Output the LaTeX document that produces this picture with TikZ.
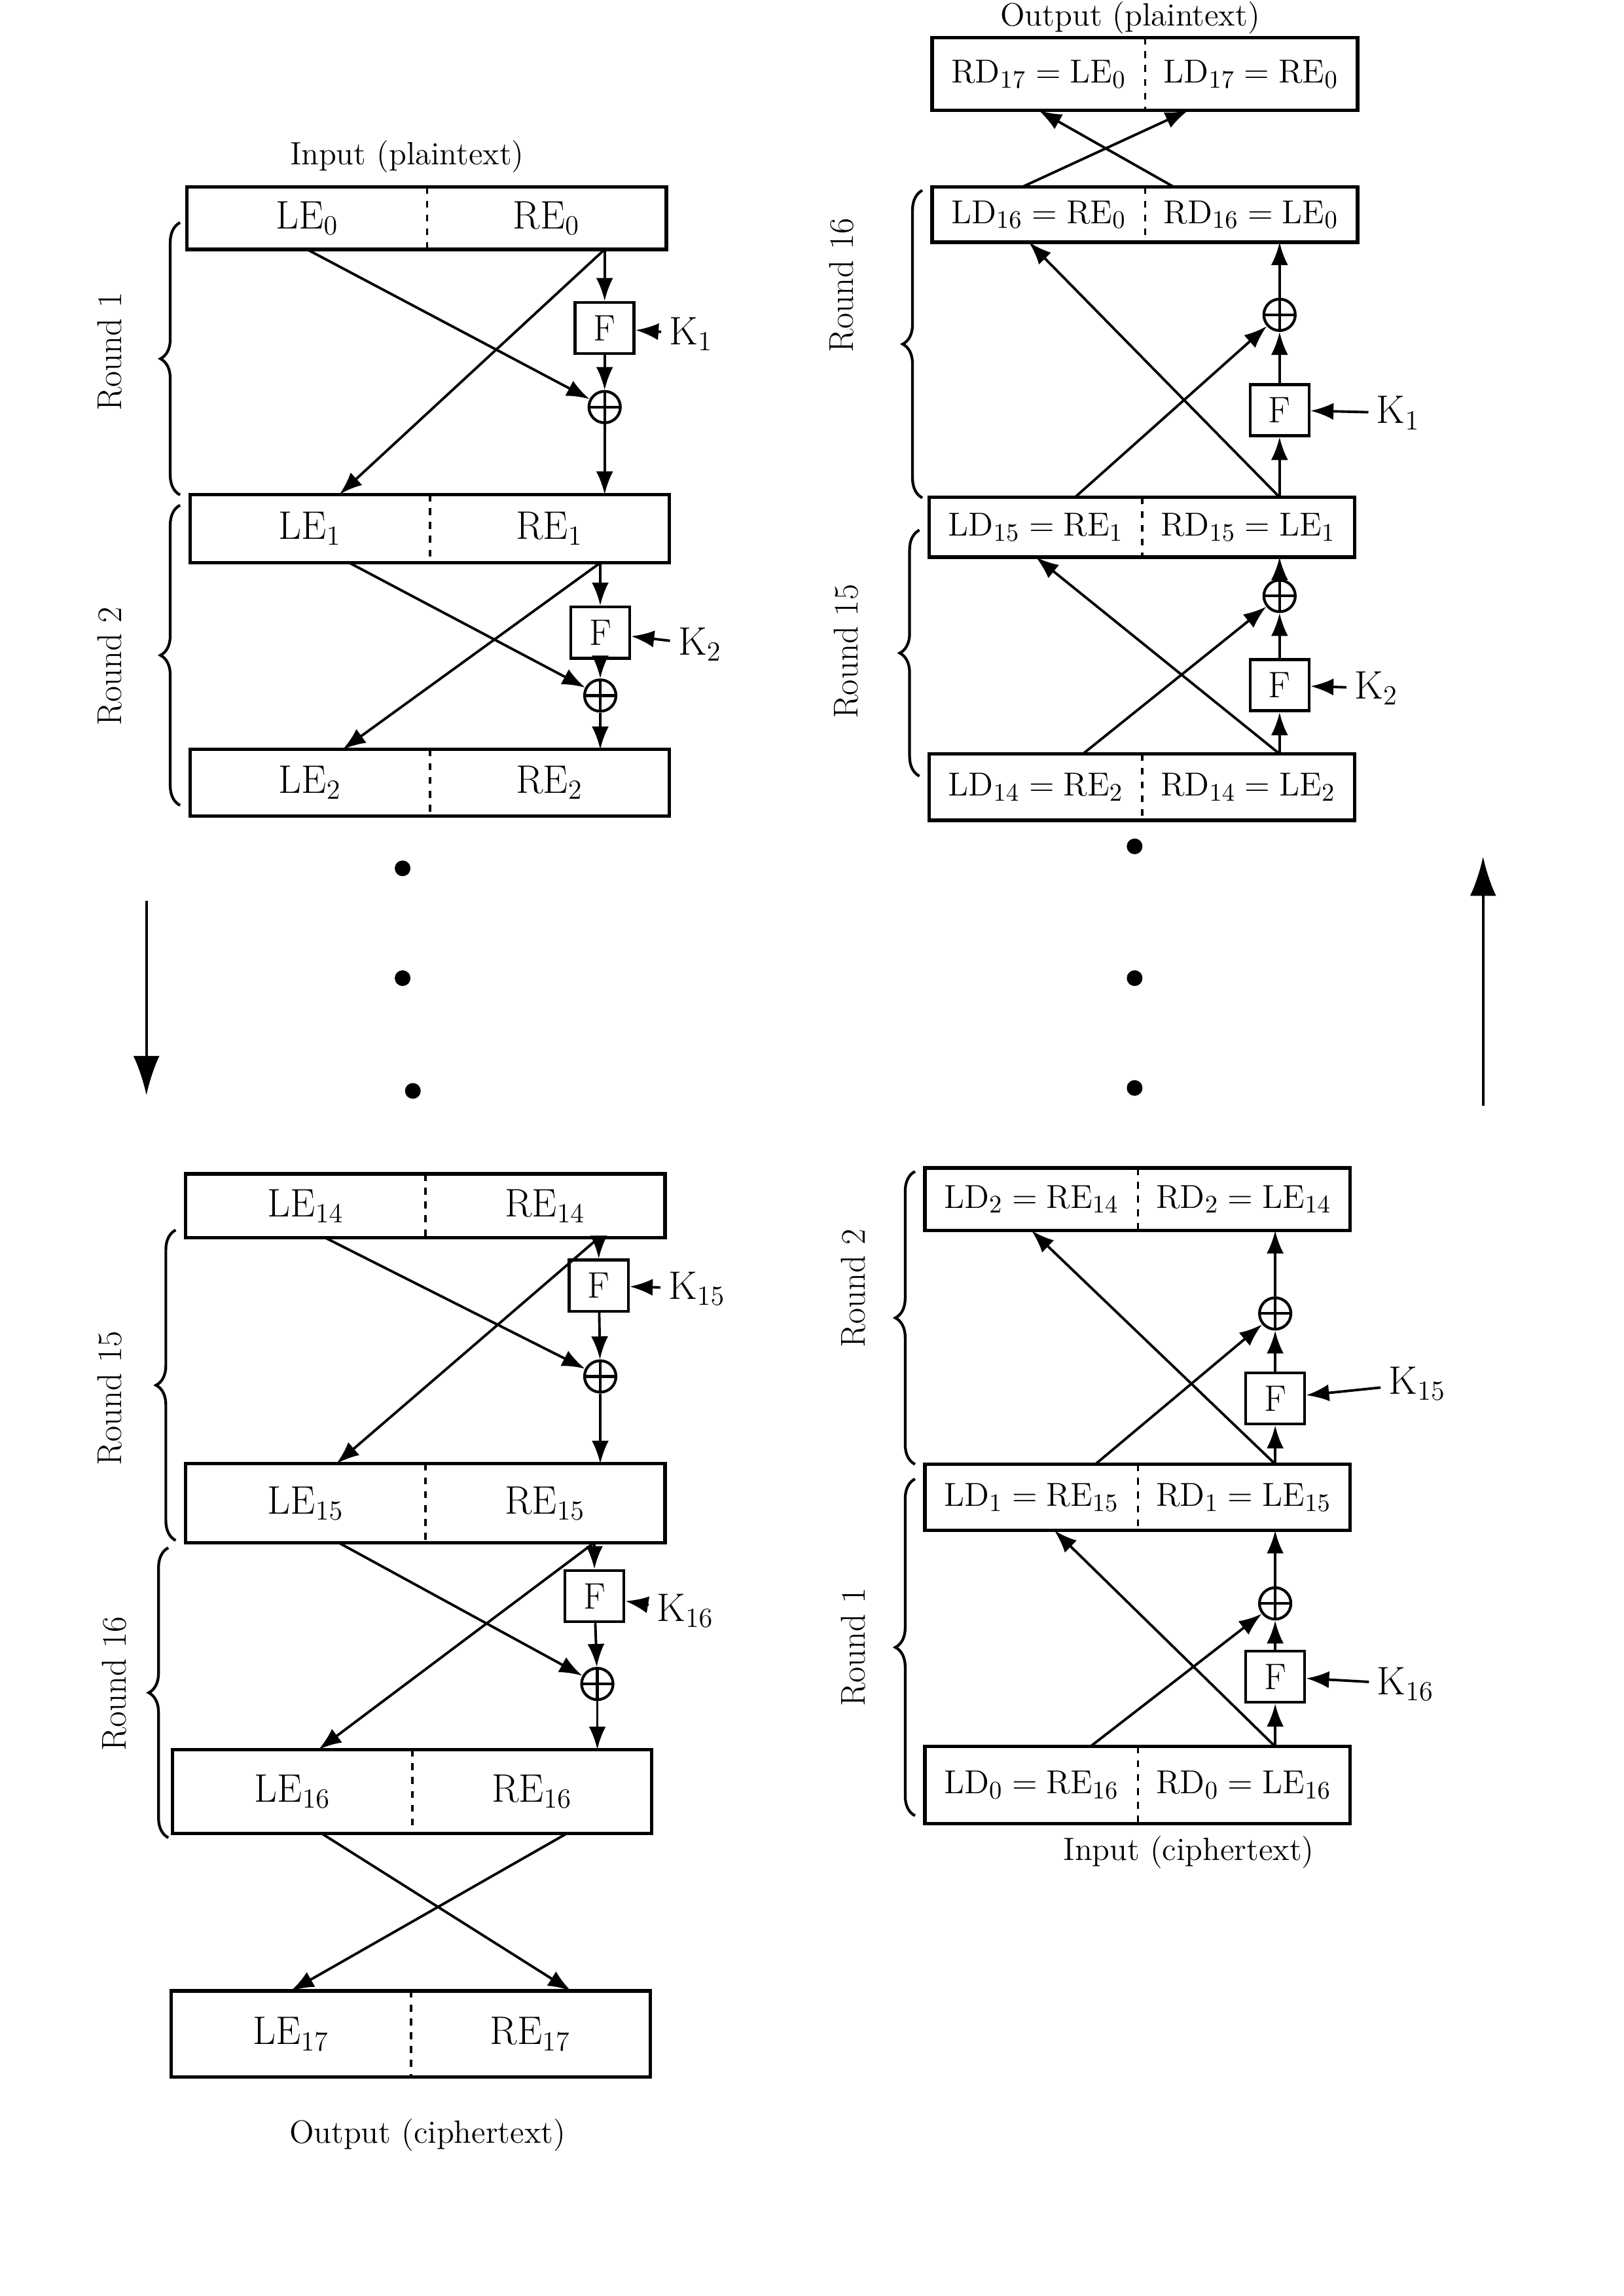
\documentclass[tikz,border=0pt]{standalone}
\usetikzlibrary{arrows.meta,decorations.pathreplacing}

\begin{document}
\begin{tikzpicture}[
  x=0.02236cm,y=-0.02236cm,
  half/.style={minimum width=3.65cm,minimum height=1cm,inner sep=0pt,font=\fontsize{17}{20}\selectfont},
  dhalf/.style={minimum width=3.24cm,minimum height=0.95cm,inner sep=0pt,font=\fontsize{15}{18}\selectfont},
  fbox/.style={draw,line width=1.3pt,minimum width=0.9cm,minimum height=0.78cm,inner sep=0pt,font=\fontsize{16}{18}\selectfont},
  xorn/.style={circle,draw,line width=1.2pt,minimum size=0.48cm,inner sep=0pt,
    path picture={\draw[line width=1.2pt] (path picture bounding box.north) -- (path picture bounding box.south)
      (path picture bounding box.west) -- (path picture bounding box.east);}},
  kname/.style={font=\fontsize{17}{20}\selectfont},
  txt/.style={font=\fontsize{14}{16}\selectfont},
  rnd/.style={rotate=90,font=\fontsize{15}{18}\selectfont},
  brc/.style={decorate,decoration={brace,amplitude=0.3cm},line width=1.2pt},
  arc/.style={-{Latex[length=3.5mm,width=2.6mm]},line width=1.1pt},
  bigarc/.style={-{Latex[length=6mm,width=4mm]},line width=1.1pt},
  boxline/.style={line width=1.5pt},
  divline/.style={dashed,line width=1pt},
  vdot/.style={circle,fill,minimum size=0.24cm,inner sep=0pt}
]
  \useasboundingbox (0,0) rectangle (1109,1568);

  % encryption, left column
  \node[txt] (inp) at (278,107) {Input (plaintext)};
  \node[half,minimum height=0.94cm] (le0) at (209.75,149) {$\mathrm{LE}_{0}$};
  \node[half,minimum height=0.94cm] (re0) at (373.25,149) {$\mathrm{RE}_{0}$};
  \node[half,minimum height=1.03cm] (le1) at (211.75,361) {$\mathrm{LE}_{1}$};
  \node[half,minimum height=1.03cm] (re1) at (375.25,361) {$\mathrm{RE}_{1}$};
  \node[half] (le2) at (211.75,534.5) {$\mathrm{LE}_{2}$};
  \node[half] (re2) at (375.25,534.5) {$\mathrm{RE}_{2}$};
  \node[half,minimum height=0.96cm] (le14) at (208.75,823.5) {$\mathrm{LE}_{14}$};
  \node[half,minimum height=0.96cm] (re14) at (372.25,823.5) {$\mathrm{RE}_{14}$};
  \node[half,minimum height=1.19cm] (le15) at (208.75,1026.5) {$\mathrm{LE}_{15}$};
  \node[half,minimum height=1.19cm] (re15) at (372.25,1026.5) {$\mathrm{RE}_{15}$};
  \node[half,minimum height=1.27cm] (le16) at (199.75,1223.5) {$\mathrm{LE}_{16}$};
  \node[half,minimum height=1.27cm] (re16) at (363.25,1223.5) {$\mathrm{RE}_{16}$};
  \node[half,minimum height=1.3cm] (le17) at (198.75,1389) {$\mathrm{LE}_{17}$};
  \node[half,minimum height=1.3cm] (re17) at (362.25,1389) {$\mathrm{RE}_{17}$};
  \node[txt] (outc) at (292,1458) {Output (ciphertext)};

  \draw[boxline] (le0.north west) rectangle (re0.south east);
  \draw[divline] (le0.north east) -- (le0.south east);
  \draw[boxline] (le1.north west) rectangle (re1.south east);
  \draw[divline] (le1.north east) -- (le1.south east);
  \draw[boxline] (le2.north west) rectangle (re2.south east);
  \draw[divline] (le2.north east) -- (le2.south east);
  \draw[boxline] (le14.north west) rectangle (re14.south east);
  \draw[divline] (le14.north east) -- (le14.south east);
  \draw[boxline] (le15.north west) rectangle (re15.south east);
  \draw[divline] (le15.north east) -- (le15.south east);
  \draw[boxline] (le16.north west) rectangle (re16.south east);
  \draw[divline] (le16.north east) -- (le16.south east);
  \draw[boxline] (le17.north west) rectangle (re17.south east);
  \draw[divline] (le17.north east) -- (le17.south east);

  \node[fbox] (f1) at (413,224) {F};
  \node[xorn] (a1) at (413,278) {};
  \node[kname] (k1) at (472,228) {$\mathrm{K}_{1}$};
  \node[fbox] (f2) at (410,432) {F};
  \node[xorn] (a2) at (410,475) {};
  \node[kname] (k2) at (478,440) {$\mathrm{K}_{2}$};
  \node[fbox] (f15) at (409,878) {F};
  \node[xorn] (a15) at (410,940) {};
  \node[kname] (k15) at (476,880) {$\mathrm{K}_{15}$};
  \node[fbox] (f16) at (406,1090) {F};
  \node[xorn] (a16) at (408,1150) {};
  \node[kname] (k16) at (468,1100) {$\mathrm{K}_{16}$};

  % round 1
  \draw[arc] (f1 |- re0.south) -- (f1);
  \draw[arc] (f1) -- (a1);
  \draw[arc] (a1) -- (a1 |- re1.north);
  \draw[arc] (k1) -- (f1);
  \draw[arc] (le0.south) -- (a1);
  \draw[arc] (f1 |- re0.south) -- ([xshift=0.45cm]le1.north);
  % round 2
  \draw[arc] (f2 |- re1.south) -- (f2);
  \draw[arc] (f2) -- (a2);
  \draw[arc] (a2) -- (a2 |- re2.north);
  \draw[arc] (k2) -- (f2);
  \draw[arc] ([xshift=0.6cm]le1.south) -- (a2);
  \draw[arc] (f2 |- re1.south) -- ([xshift=0.5cm]le2.north);
  % round 15
  \draw[arc] (f15 |- re14.south) -- (f15);
  \draw[arc] (f15) -- (a15);
  \draw[arc] (a15) -- (a15 |- re15.north);
  \draw[arc] (k15) -- (f15);
  \draw[arc] ([xshift=0.3cm]le14.south) -- (a15);
  \draw[arc] (f15 |- re14.south) -- ([xshift=0.47cm]le15.north);
  % round 16
  \draw[arc] (f16 |- re15.south) -- (f16);
  \draw[arc] (f16) -- (a16);
  \draw[arc] (a16) -- (a16 |- re16.north);
  \draw[arc] (k16) -- (f16);
  \draw[arc] ([xshift=0.5cm]le15.south) -- (a16);
  \draw[arc] (f16 |- re15.south) -- ([xshift=0.4cm]le16.north);
  % swap
  \draw[arc] ([xshift=0.45cm]le16.south) -- ([xshift=0.62cm]re17.north);
  \draw[arc] ([xshift=0.53cm]re16.south) -- (le17.north);

  \draw[brc] (123,338) -- (123,152);
  \node[rnd] (r1) at (75,240) {Round 1};
  \draw[brc] (123,550) -- (123,345);
  \node[rnd] (r2) at (75,455) {Round 2};
  \draw[brc] (120,1052) -- (120,840);
  \node[rnd] (r15) at (75,955) {Round 15};
  \draw[brc] (115,1255) -- (115,1057);
  \node[rnd] (r16) at (78,1150) {Round 16};

  \node[vdot] (p1) at (275,593) {};
  \node[vdot] (p2) at (275,668) {};
  \node[vdot] (p3) at (282,745) {};
  \coordinate (dn1) at (100,615);
  \coordinate (dn2) at (100,748);
  \draw[bigarc] (dn1) -- (dn2);

  % decryption, right column
  \node[txt] (outp) at (772,12) {Output (plaintext)};
  \node[dhalf,minimum height=1.1cm] (rd17) at (709.5,50.5) {$\mathrm{RD}_{17}=\mathrm{LE}_{0}$};
  \node[dhalf,minimum height=1.1cm] (ld17) at (854.5,50.5) {$\mathrm{LD}_{17}=\mathrm{RE}_{0}$};
  \node[dhalf,minimum height=0.83cm] (ld16) at (709.5,146.5) {$\mathrm{LD}_{16}=\mathrm{RE}_{0}$};
  \node[dhalf,minimum height=0.83cm] (rd16) at (854.5,146.5) {$\mathrm{RD}_{16}=\mathrm{LE}_{0}$};
  \node[dhalf,minimum height=0.9cm] (ld15) at (707.5,360) {$\mathrm{LD}_{15}=\mathrm{RE}_{1}$};
  \node[dhalf,minimum height=0.9cm] (rd15) at (852.5,360) {$\mathrm{RD}_{15}=\mathrm{LE}_{1}$};
  \node[dhalf,minimum height=1cm] (ld14) at (707.5,537.5) {$\mathrm{LD}_{14}=\mathrm{RE}_{2}$};
  \node[dhalf,minimum height=1cm] (rd14) at (852.5,537.5) {$\mathrm{RD}_{14}=\mathrm{LE}_{2}$};
  \node[dhalf,minimum height=0.94cm] (ld2) at (704.5,819) {$\mathrm{LD}_{2}=\mathrm{RE}_{14}$};
  \node[dhalf,minimum height=0.94cm] (rd2) at (849.5,819) {$\mathrm{RD}_{2}=\mathrm{LE}_{14}$};
  \node[dhalf,minimum height=1cm] (ld1) at (704.5,1022.5) {$\mathrm{LD}_{1}=\mathrm{RE}_{15}$};
  \node[dhalf,minimum height=1cm] (rd1) at (849.5,1022.5) {$\mathrm{RD}_{1}=\mathrm{LE}_{15}$};
  \node[dhalf,minimum height=1.16cm] (ld0) at (704.5,1219) {$\mathrm{LD}_{0}=\mathrm{RE}_{16}$};
  \node[dhalf,minimum height=1.16cm] (rd0) at (849.5,1219) {$\mathrm{RD}_{0}=\mathrm{LE}_{16}$};
  \node[txt] (inc) at (812,1265) {Input (ciphertext)};

  \draw[boxline] (rd17.north west) rectangle (ld17.south east);
  \draw[divline] (rd17.north east) -- (rd17.south east);
  \draw[boxline] (ld16.north west) rectangle (rd16.south east);
  \draw[divline] (ld16.north east) -- (ld16.south east);
  \draw[boxline] (ld15.north west) rectangle (rd15.south east);
  \draw[divline] (ld15.north east) -- (ld15.south east);
  \draw[boxline] (ld14.north west) rectangle (rd14.south east);
  \draw[divline] (ld14.north east) -- (ld14.south east);
  \draw[boxline] (ld2.north west) rectangle (rd2.south east);
  \draw[divline] (ld2.north east) -- (ld2.south east);
  \draw[boxline] (ld1.north west) rectangle (rd1.south east);
  \draw[divline] (ld1.north east) -- (ld1.south east);
  \draw[boxline] (ld0.north west) rectangle (rd0.south east);
  \draw[divline] (ld0.north east) -- (ld0.south east);

  \node[fbox] (g16) at (874,280) {F};
  \node[xorn] (b16) at (874,215) {};
  \node[kname] (kd1) at (955,282) {$\mathrm{K}_{1}$};
  \node[fbox] (g15) at (874,468) {F};
  \node[xorn] (b15) at (874,407) {};
  \node[kname] (kd2) at (940,470) {$\mathrm{K}_{2}$};
  \node[fbox] (g2) at (871,955) {F};
  \node[xorn] (b2) at (871,897) {};
  \node[kname] (kd15) at (968,945) {$\mathrm{K}_{15}$};
  \node[fbox] (g1) at (871,1145) {F};
  \node[xorn] (b1) at (871,1095) {};
  \node[kname] (kd16) at (960,1150) {$\mathrm{K}_{16}$};

  % decryption round 1
  \draw[arc] (g1 |- rd0.north) -- (g1);
  \draw[arc] (g1) -- (b1);
  \draw[arc] (b1) -- (b1 |- rd1.south);
  \draw[arc] (kd16) -- (g1);
  \draw[arc] ([xshift=0.9cm]ld0.north) -- (b1);
  \draw[arc] (g1 |- rd0.north) -- ([xshift=0.35cm]ld1.south);
  % decryption round 2
  \draw[arc] (g2 |- rd1.north) -- (g2);
  \draw[arc] (g2) -- (b2);
  \draw[arc] (b2) -- (b2 |- rd2.south);
  \draw[arc] (kd15) -- (g2);
  \draw[arc] ([xshift=0.98cm]ld1.north) -- (b2);
  \draw[arc] (g2 |- rd1.north) -- (ld2.south);
  % decryption round 15
  \draw[arc] (g15 |- rd14.north) -- (g15);
  \draw[arc] (g15) -- (b15);
  \draw[arc] (b15) -- (b15 |- rd15.south);
  \draw[arc] (kd2) -- (g15);
  \draw[arc] ([xshift=0.72cm]ld14.north) -- (b15);
  \draw[arc] (g15 |- rd14.north) -- (ld15.south);
  % decryption round 16
  \draw[arc] (g16 |- rd15.north) -- (g16);
  \draw[arc] (g16) -- (b16);
  \draw[arc] (b16) -- (b16 |- rd16.south);
  \draw[arc] (kd1) -- (g16);
  \draw[arc] ([xshift=0.6cm]ld15.north) -- (b16);
  \draw[arc] (g16 |- rd15.north) -- ([xshift=-0.15cm]ld16.south);
  % swap
  \draw[arc] ([xshift=-0.25cm]ld16.north) -- ([xshift=-0.96cm]ld17.south);
  \draw[arc] ([xshift=-1.18cm]rd16.north) -- (rd17.south);

  \draw[brc] (630,340) -- (630,130);
  \node[rnd] (s16) at (575,195) {Round 16};
  \draw[brc] (628,530) -- (628,362);
  \node[rnd] (s15) at (578,445) {Round 15};
  \draw[brc] (625,1000) -- (625,800);
  \node[rnd] (s2) at (583,880) {Round 2};
  \draw[brc] (625,1240) -- (625,1010);
  \node[rnd] (s1) at (583,1125) {Round 1};

  \node[vdot] (q1) at (775,578) {};
  \node[vdot] (q2) at (775,668) {};
  \node[vdot] (q3) at (775,743) {};
  \coordinate (up1) at (1013,755);
  \coordinate (up2) at (1013,585);
  \draw[bigarc] (up1) -- (up2);
\end{tikzpicture}
\end{document}
